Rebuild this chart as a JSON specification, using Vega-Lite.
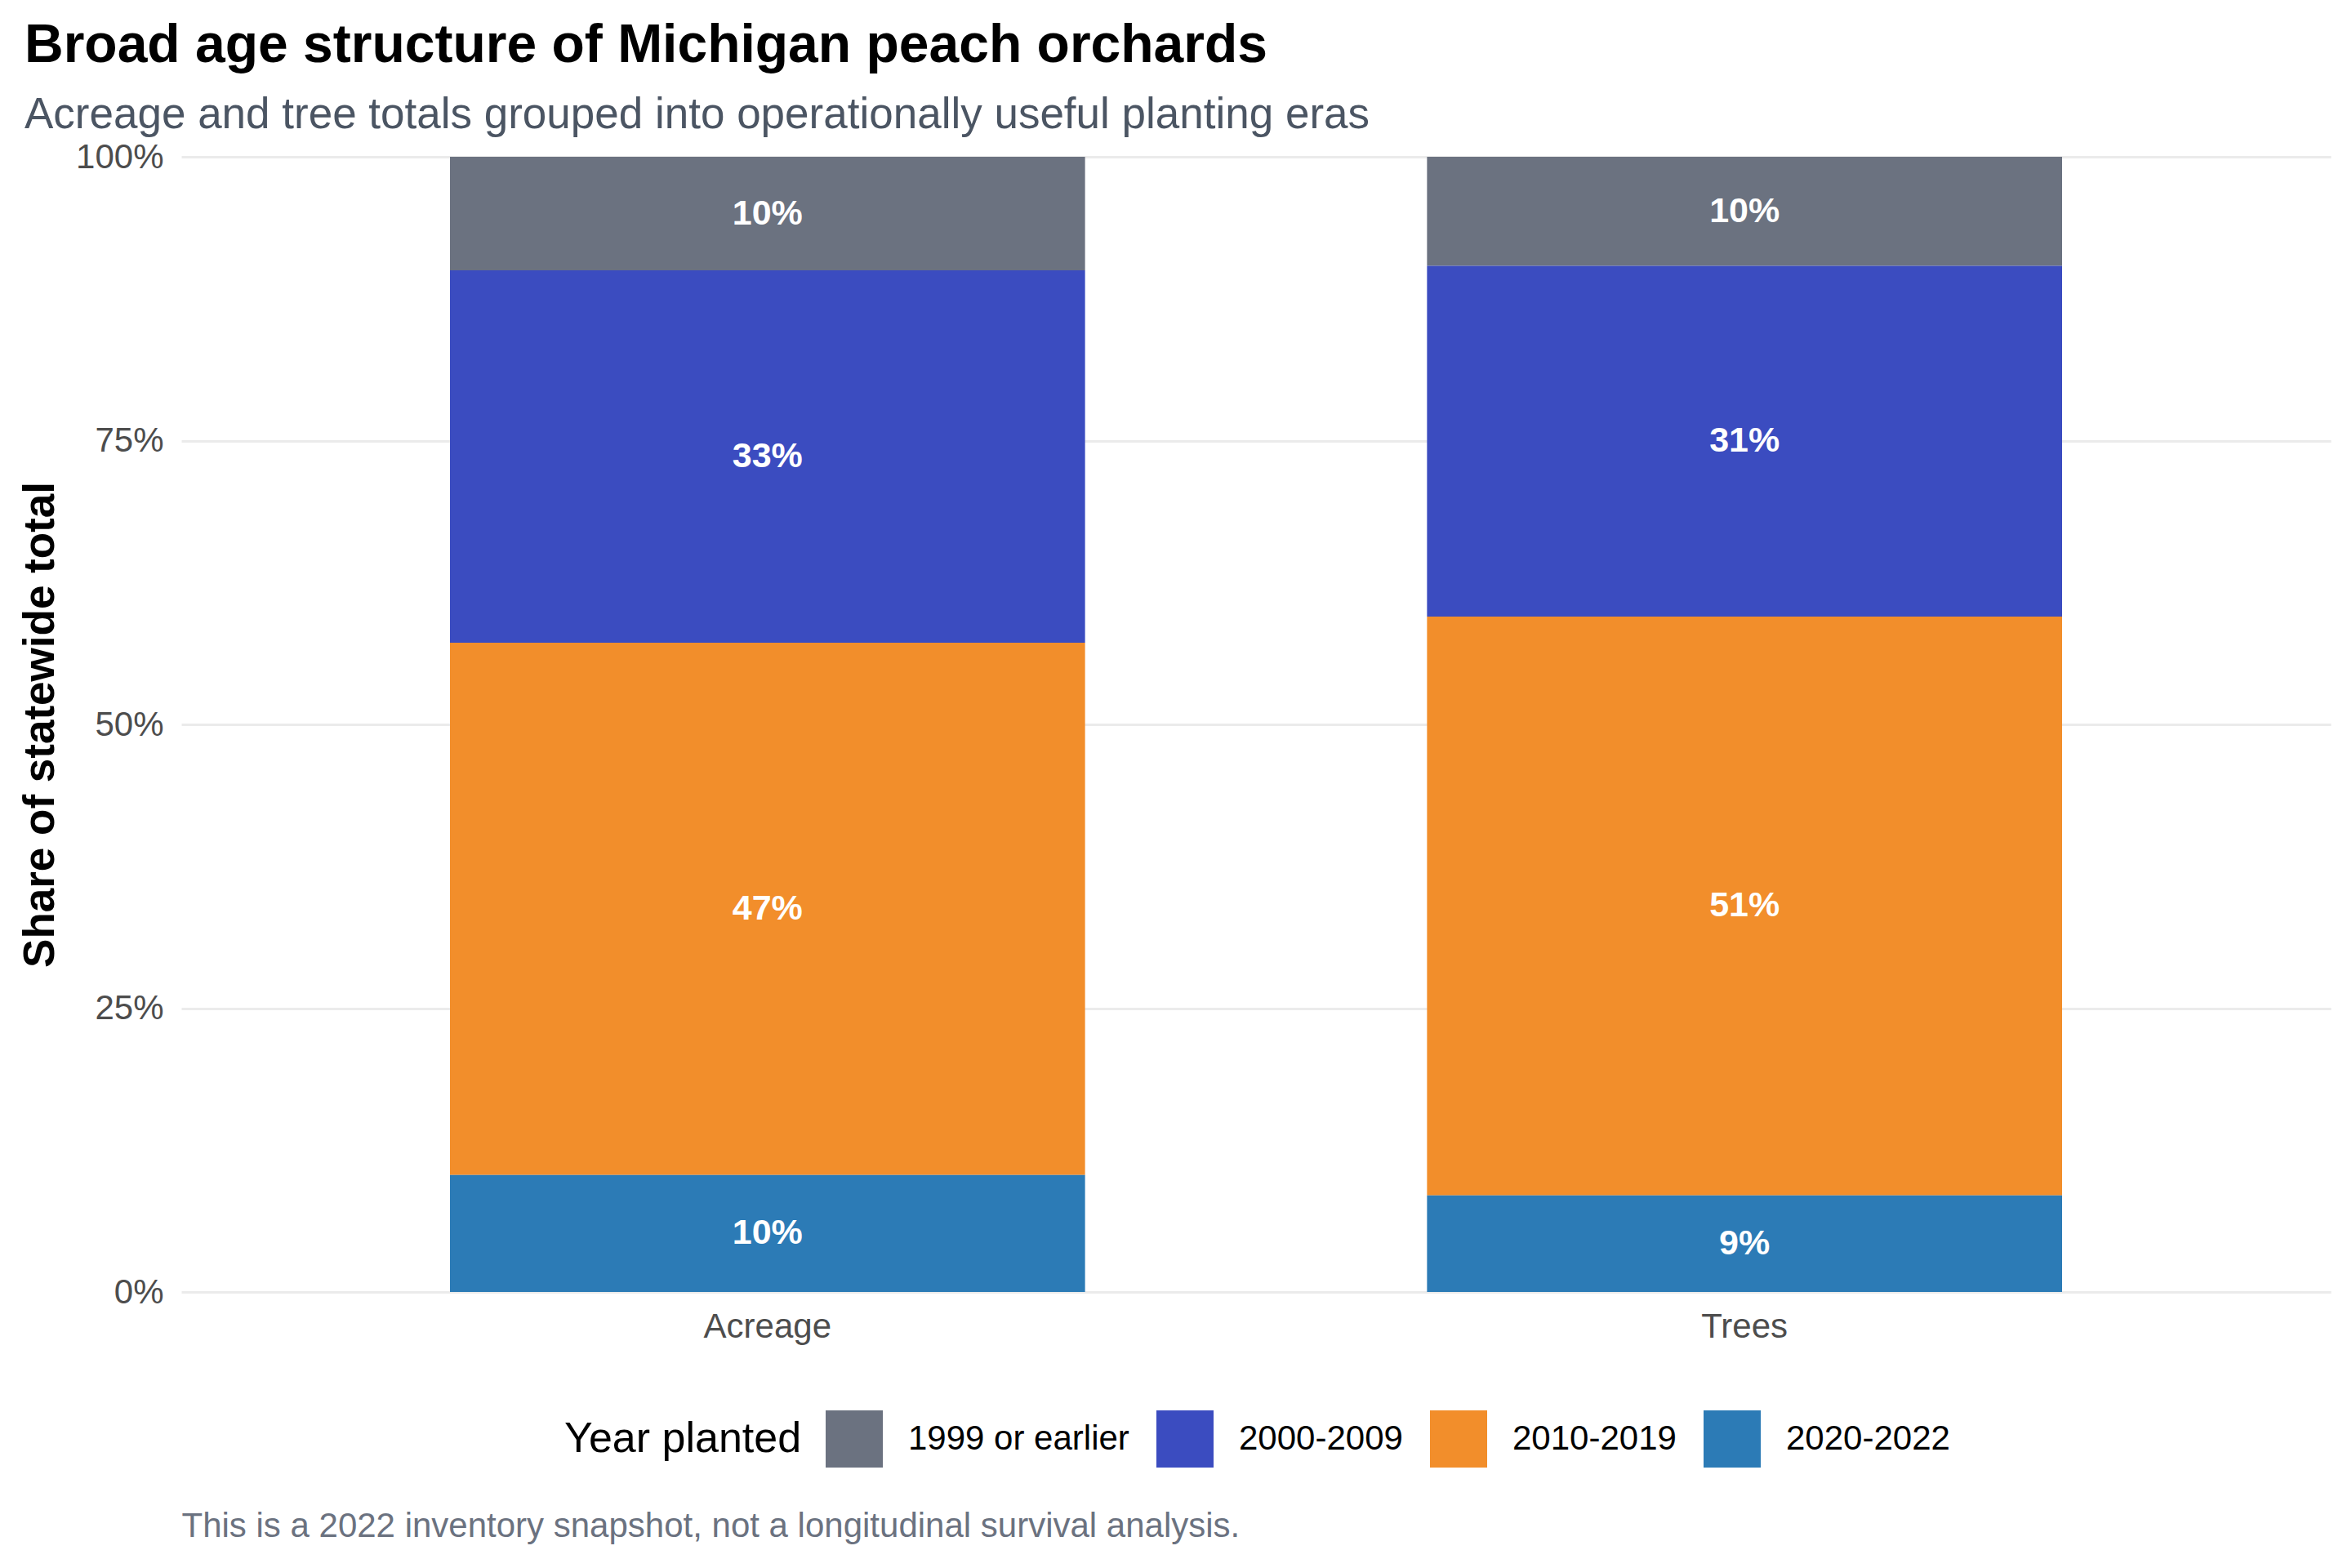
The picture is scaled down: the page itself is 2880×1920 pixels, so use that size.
{
  "$schema": "https://vega.github.io/schema/vega-lite/v6.json",
  "width": 2632,
  "height": 1390,
  "autosize": {"type": "none"},
  "padding": {"left": 222, "top": 192, "right": 26, "bottom": 338},
  "background": "white",
  "config": {
    "font": "Liberation Sans",
    "view": {"stroke": null}
  },
  "title": {
    "text": "Broad age structure of Michigan peach orchards",
    "subtitle": "Acreage and tree totals grouped into operationally useful planting eras",
    "anchor": "start",
    "frame": "group",
    "dx": -192,
    "fontSize": 66,
    "fontWeight": "bold",
    "color": "black",
    "subtitleFontSize": 53,
    "subtitleColor": "#4B5563",
    "subtitlePadding": 25,
    "offset": 2
  },
  "data": {
    "values": [
      {"measure": "Acreage", "era": "1999 or earlier", "share": 0.100, "era_order": 1},
      {"measure": "Acreage", "era": "2000-2009", "share": 0.328, "era_order": 2},
      {"measure": "Acreage", "era": "2010-2019", "share": 0.469, "era_order": 3},
      {"measure": "Acreage", "era": "2020-2022", "share": 0.103, "era_order": 4},
      {"measure": "Trees", "era": "1999 or earlier", "share": 0.096, "era_order": 1},
      {"measure": "Trees", "era": "2000-2009", "share": 0.309, "era_order": 2},
      {"measure": "Trees", "era": "2010-2019", "share": 0.510, "era_order": 3},
      {"measure": "Trees", "era": "2020-2022", "share": 0.085, "era_order": 4}
    ]
  },
  "encoding": {
    "x": {
      "field": "measure",
      "type": "nominal",
      "scale": {"paddingInner": 0.35, "paddingOuter": 0.275},
      "axis": {
        "title": "This is a 2022 inventory snapshot, not a longitudinal survival analysis.",
        "titleFontSize": 42,
        "titleFontWeight": "normal",
        "titleColor": "#6B7280",
        "titleX": 0,
        "titleY": 299,
        "titleAlign": "left",
        "titleBaseline": "alphabetic",
        "titleLimit": 2000,
        "labelAngle": 0,
        "labelFontSize": 42,
        "labelColor": "#4D4D4D",
        "labelPadding": 22,
        "ticks": false,
        "domain": false,
        "grid": false
      }
    },
    "y": {
      "field": "share",
      "type": "quantitative",
      "stack": "normalize",
      "scale": {"domain": [0, 1]},
      "axis": {
        "values": [0, 0.25, 0.5, 0.75, 1],
        "format": ".0%",
        "title": "Share of statewide total",
        "titleFontSize": 53,
        "titleFontWeight": "bold",
        "titleColor": "black",
        "titleX": -146,
        "titleY": 695,
        "labelFontSize": 42,
        "labelColor": "#4D4D4D",
        "labelPadding": 22,
        "ticks": false,
        "domain": false,
        "grid": true,
        "gridColor": "#EBEBEB",
        "gridWidth": 3
      }
    },
    "order": {"field": "era_order", "sort": "descending"}
  },
  "layer": [
    {
      "mark": {"type": "bar"},
      "encoding": {
        "color": {
          "field": "era",
          "type": "nominal",
          "scale": {
            "domain": ["1999 or earlier", "2000-2009", "2010-2019", "2020-2022"],
            "range": ["#6B7280", "#3B4CC0", "#F28E2B", "#2C7BB6"]
          },
          "legend": {
            "orient": "none",
            "legendX": 469,
            "legendY": 1535,
            "direction": "horizontal",
            "title": "Year planted",
            "titleOrient": "left",
            "titleFontSize": 52,
            "titleFontWeight": "normal",
            "titleColor": "black",
            "titlePadding": 29,
            "titleLimit": 1000,
            "labelFontSize": 42,
            "labelColor": "black",
            "labelLimit": 1000,
            "labelOffset": 31,
            "columnPadding": 33,
            "symbolType": "square",
            "symbolSize": 4900,
            "symbolStrokeWidth": 0,
            "symbolOpacity": 1
          }
        }
      }
    },
    {
      "mark": {"type": "text", "color": "white", "fontWeight": "bold", "fontSize": 43, "baseline": "middle"},
      "encoding": {
        "y": {"field": "share", "type": "quantitative", "stack": "normalize", "bandPosition": 0.5},
        "text": {"field": "share", "type": "quantitative", "format": ".0%"}
      }
    }
  ]
}
